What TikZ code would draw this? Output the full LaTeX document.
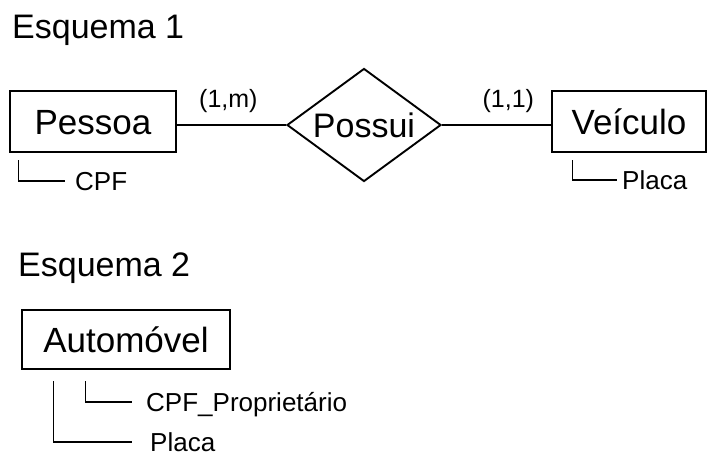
\documentclass[tikz,border=0pt]{standalone}
\usepackage{fontspec}
\setmainfont{Liberation Sans}
\usepackage{tikz}
\usetikzlibrary{shapes.geometric}
\tikzset{
  Titulo/.style={anchor=base west,inner sep=0pt,font=\fontsize{34}{40}\selectfont},
  Entidade/.style={draw,line width=2.4pt,inner sep=0pt,text height=25pt,text depth=0pt,
    minimum height=61pt,font=\fontsize{35}{40}\selectfont},
  Relacao/.style={draw,line width=1.9pt,diamond,aspect=1.36,inner sep=0pt,
    minimum width=154pt,minimum height=113pt,font=\fontsize{34}{40}\selectfont},
  Card/.style={above=11pt,inner sep=0pt,font=\fontsize{25}{30}\selectfont},
  Atributo/.style={anchor=west,inner ysep=0pt,inner xsep=10pt,text height=18pt,text depth=0pt,
    font=\fontsize{26}{30}\selectfont},
  EdgeER/.style={line width=1.9pt},
  EdgeAtr/.style={line width=1.3pt}
}

\begin{document}
\begin{tikzpicture}[x=1pt,y=1pt]
    \useasboundingbox (0,0) rectangle (708,-458);

    \node[Titulo] (E1) at (12,-38) {Esquema 1};

    \node[Entidade,minimum width=166pt] (Pessoa) at (93,-121.5) {Pessoa};
    \node[Relacao] (Possui) at (364,-125) {Possui};
    \node[Entidade,minimum width=154pt] (Veiculo) at (629,-121.5) {Veículo};

    \draw[EdgeER] (Possui.west) -- (Possui.west -| Pessoa.east)
      node[Card,pos=0.53] (C1) {(1,m)};
    \draw[EdgeER] (Possui.east) -- (Possui.east -| Veiculo.west)
      node[Card,pos=0.61] (C2) {(1,1)};

    \node[Atributo] (CPF) at (65,-181) {CPF};
    \node[Atributo,inner xsep=5pt] (Placa1) at (617,-180) {Placa};
    \draw[EdgeAtr] ([shift={(10pt,-7pt)}]Pessoa.south west) |- (CPF.west);
    \draw[EdgeAtr] ([shift={(22pt,-7pt)}]Veiculo.south west) |- (Placa1.west);

    \node[Titulo] (E2) at (18,-276) {Esquema 2};

    \node[Entidade,minimum width=208pt,minimum height=59pt] (Auto) at (126,-339.5) {Automóvel};

    \node[Atributo,inner xsep=14pt] (CPFProp) at (132,-402) {CPF\_Proprietário};
    \node[Atributo,inner xsep=18pt] (Placa2) at (132,-442) {Placa};
    \draw[EdgeAtr] ([shift={(65pt,-11pt)}]Auto.south west) |- (CPFProp.west);
    \draw[EdgeAtr] ([shift={(33pt,-11pt)}]Auto.south west) |- (Placa2.west);
\end{tikzpicture}
\end{document}
